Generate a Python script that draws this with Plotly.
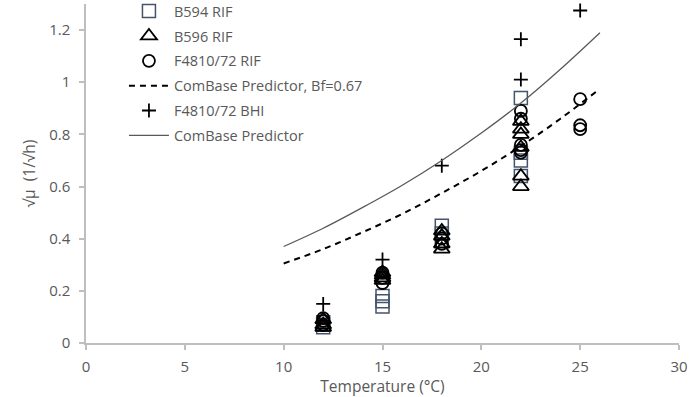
import plotly.graph_objects as go

# B594 RIF (squares)
b594_t = [12, 12, 12, 15, 15, 15, 18, 18, 18, 22, 22, 22, 22]
b594_v = [0.06, 0.07, 0.08, 0.14, 0.16, 0.18, 0.39, 0.42, 0.45, 0.64, 0.70, 0.73, 0.94]

# B596 RIF (triangles)
b596_t = [12, 12, 12, 15, 15, 15, 15, 18, 18, 18, 18, 22, 22, 22, 22, 22, 22]
b596_v = [0.06, 0.07, 0.09, 0.24, 0.25, 0.26, 0.27, 0.36, 0.38, 0.41, 0.43,
          0.60, 0.64, 0.75, 0.80, 0.82, 0.85]

# F4810/72 RIF (circles)
f_rif_t = [12, 12, 12, 15, 15, 15, 18, 18, 18, 22, 22, 22, 22, 22, 25, 25, 25]
f_rif_v = [0.07, 0.085, 0.095, 0.23, 0.25, 0.27, 0.38, 0.40, 0.42,
           0.73, 0.74, 0.76, 0.86, 0.89, 0.82, 0.835, 0.935]

# F4810/72 BHI (plus)
f_bhi_t = [12, 15, 18, 22, 22, 25]
f_bhi_v = [0.15, 0.32, 0.68, 1.01, 1.165, 1.275]

# ComBase predictor curves
cb_t = [10, 12, 14, 16, 18, 20, 22, 24, 26]
cb_v = [0.37, 0.44, 0.52, 0.605, 0.70, 0.805, 0.92, 1.05, 1.19]
cb_bf_v = [0.305, 0.36, 0.425, 0.495, 0.575, 0.66, 0.755, 0.86, 0.975]

grey = "#595959"
font = "Open Sans"

fig = go.Figure()
fig.add_trace(go.Scatter(x=b594_t, y=b594_v, mode="markers", name="B594 RIF",
                         legendgroup="a",
                         marker=dict(symbol="square-open", size=13, color="#44546A",
                                     line=dict(width=1.5, color="#44546A"))))
fig.add_trace(go.Scatter(x=b596_t, y=b596_v, mode="markers", name="B596 RIF",
                         legendgroup="b",
                         marker=dict(symbol="triangle-up-open", size=14, color="black",
                                     line=dict(width=1.8, color="black"))))
fig.add_trace(go.Scatter(x=f_rif_t, y=f_rif_v, mode="markers", name="F4810/72 RIF",
                         legendgroup="c",
                         marker=dict(symbol="circle-open", size=12, color="black",
                                     line=dict(width=1.8, color="black"))))
fig.add_trace(go.Scatter(x=cb_t, y=cb_bf_v, mode="lines", name="ComBase Predictor, Bf=0.67",
                         legendgroup="d", line_shape="spline",
                         line=dict(color="black", width=2, dash="6px,5px")))
fig.add_trace(go.Scatter(x=f_bhi_t, y=f_bhi_v, mode="markers", name="F4810/72 BHI",
                         legendgroup="e", cliponaxis=False,
                         marker=dict(symbol="cross-thin-open", size=10, color="black",
                                     line=dict(width=1.8, color="black"))))
fig.add_trace(go.Scatter(x=cb_t, y=cb_v, mode="lines", name="ComBase Predictor",
                         legendgroup="f", line_shape="spline",
                         line=dict(color="#595959", width=1.3)))

fig.update_layout(
    width=692, height=397,
    margin=dict(l=86, r=13, t=4, b=54, autoexpand=False),
    paper_bgcolor="white", plot_bgcolor="white",
    font=dict(family=font, size=14, color=grey),
    showlegend=True,
    legend=dict(x=0.064, y=1.026, xanchor="left", yanchor="top",
                bgcolor="rgba(0,0,0,0)", font=dict(size=14.5, color=grey),
                tracegroupgap=3, itemwidth=40),
    xaxis=dict(range=[0, 30], tickvals=[0, 5, 10, 15, 20, 25, 30],
               automargin=False,
               showgrid=False, zeroline=False, showline=True,
               linecolor="#bfbfbf", linewidth=1.5,
               ticks="outside", ticklen=5, tickcolor="#bfbfbf", tickwidth=1.5,
               ticklabelstandoff=4,
               tickfont=dict(size=15, color=grey),
               title=dict(text="Temperature (°C)", font=dict(size=15.5, color=grey), standoff=5)),
    yaxis=dict(range=[0, 1.3], tickvals=[0, 0.2, 0.4, 0.6, 0.8, 1.0, 1.2],
               ticktext=["0", "0.2", "0.4", "0.6", "0.8", "1", "1.2"],
               automargin=False,
               showgrid=False, zeroline=False, showline=True,
               linecolor="#bfbfbf", linewidth=1.5,
               ticks="outside", ticklen=5, tickcolor="#bfbfbf", tickwidth=1.5,
               ticklabelstandoff=6,
               tickfont=dict(size=15, color=grey),
               title=dict(text="√μ  (1/√h)", font=dict(size=15.5, color=grey), standoff=10)),
)

fig.write_html("out.html", config={"displayModeBar": False},
               post_script="document.body.style.margin='0px';")
